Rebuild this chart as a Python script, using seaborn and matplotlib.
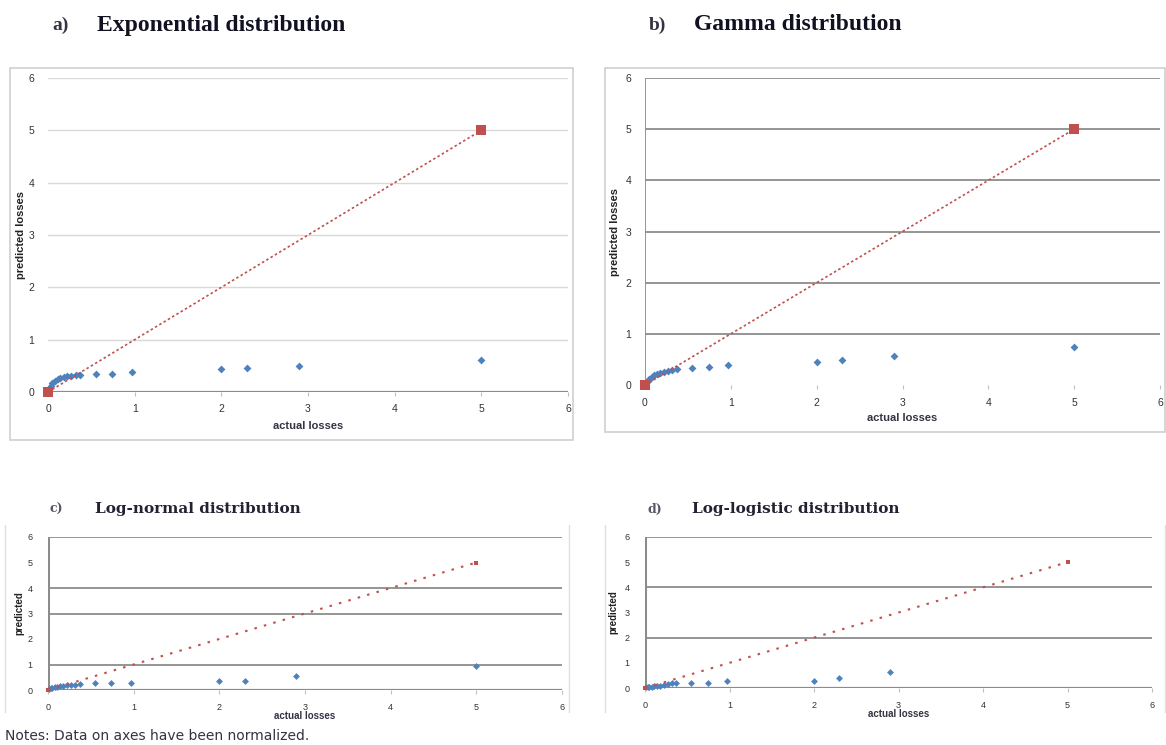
import numpy as np
import pandas as pd
import matplotlib.pyplot as plt
import seaborn as sns
from matplotlib.patches import Rectangle
from matplotlib.lines import Line2D

sns.set_theme(style="white")
plt.rcParams['font.family'] = ['Liberation Sans', 'DejaVu Sans']

# data (normalized losses)
actual = [0.01, 0.03, 0.05, 0.08, 0.11, 0.14, 0.18, 0.22, 0.27, 0.32, 0.37,
          0.55, 0.74, 0.97, 2.0, 2.3, 2.9, 5.0]
pred_exp = [0.05, 0.12, 0.17, 0.21, 0.24, 0.27, 0.29, 0.30, 0.31, 0.32, 0.33,
            0.35, 0.35, 0.38, 0.43, 0.45, 0.50, 0.62]
pred_gamma = [0.03, 0.08, 0.12, 0.16, 0.19, 0.22, 0.24, 0.26, 0.28, 0.30, 0.31,
              0.34, 0.35, 0.40, 0.45, 0.48, 0.57, 0.74]
pred_lognorm = [0.03, 0.06, 0.08, 0.10, 0.12, 0.14, 0.16, 0.18, 0.19, 0.20, 0.22,
                0.27, 0.27, 0.27, 0.37, 0.37, 0.56, 0.93]
pred_loglog = [0.02, 0.03, 0.04, 0.05, 0.06, 0.07, 0.08, 0.10, 0.15, 0.18, 0.20,
               0.20, 0.20, 0.29, 0.29, 0.40, 0.63, np.nan]
ref_x = [0, 5]
ref_y = [0, 5]

letters = ["a)", "b)", "c)", "d)"]
titles = ["Exponential distribution", "Gamma distribution",
          "Log-normal distribution", "Log-logistic distribution"]
ylabels = ["predicted losses", "predicted losses", "predicted", "predicted"]
xlabel = "actual losses"
ticks = [0, 1, 2, 3, 4, 5, 6]
footnote = "Notes: Data on axes have been normalized."

W, H = 1166, 745
fig = plt.figure(figsize=(W / 100, H / 100), dpi=100)


def px_axes(x0, y_top, x1, y_bot):
    # pixel box -> figure fraction
    return fig.add_axes([x0 / W, 1 - y_bot / H, (x1 - x0) / W, (y_bot - y_top) / H])


def px_rect(x0, y0, x1, y1, **kw):
    fig.patches.append(Rectangle((x0 / W, 1 - y1 / H), (x1 - x0) / W, (y1 - y0) / H,
                                 transform=fig.transFigure, fill=False, **kw))


# outer chart frames
px_rect(10, 68, 573, 440, edgecolor="#d0d0d0", linewidth=1.2)
px_rect(605, 68, 1165, 432, edgecolor="#d0d0d0", linewidth=1.2)
for x in (5, 569, 605, 1165):
    fig.add_artist(Line2D([x / W, x / W], [1 - 712 / H, 1 - 525 / H],
                          color="#e0e0e0", linewidth=1, transform=fig.transFigure))

panels = [
    dict(box=(48, 78, 568, 392), pred=pred_exp, grid="#d9d9d9", gridw=1.0,
         yaxis=False, xaxis=True, sq=6.5, dm=4, lab=7.5, ylab_x=26, ypad=10, xlab_y=426),
    dict(box=(645, 78, 1160, 385), pred=pred_gamma, grid="#8c8c8c", gridw=1.3,
         yaxis=True, xaxis=False, sq=6.5, dm=4, lab=7.5, ylab_x=620, ypad=10, xlab_y=418),
    dict(box=(48, 537, 562, 690), pred=pred_lognorm, grid="#8c8c8c", gridw=1.3,
         yaxis=True, xaxis=True, sq=3.5, dm=3.5, lab=6.5, ylab_x=24, ypad=11, xlab_y=716,
         gridy=[1, 3, 4, 6]),
    dict(box=(645, 537, 1152, 688), pred=pred_loglog, grid="#8c8c8c", gridw=1.3,
         yaxis=True, xaxis=True, sq=3.5, dm=3.5, lab=6.5, ylab_x=618, ypad=11, xlab_y=714,
         gridy=[2, 4, 6]),
]

for i, p in enumerate(panels):
    x0, yt, x1, yb = p["box"]
    ax = px_axes(x0, yt, x1, yb)
    df = pd.DataFrame({"actual": actual, "predicted": p["pred"]})
    ref = pd.DataFrame({"x": ref_x, "y": ref_y})

    ax.set_xlim(0, 6)
    ax.set_ylim(0, 6)
    for g in p.get("gridy", [1, 2, 3, 4, 5, 6]):
        ax.axhline(g, color=p["grid"], linewidth=p["gridw"], zorder=0)
    if p["xaxis"]:
        ax.axhline(0, color="#8c8c8c", linewidth=1.6, zorder=1)
    if p["yaxis"]:
        ax.axvline(0, color="#8c8c8c", linewidth=2.2 if i >= 2 else 1.3, zorder=1)

    sns.lineplot(data=ref, x="x", y="y", ax=ax, color="#c0504d",
                 linestyle=(0, (1.5, 1.5)) if i < 2 else (0, (1.2, 3.5)),
                 linewidth=1.2 if i < 2 else 1.5, marker="s", markersize=p["sq"],
                 markeredgewidth=0, zorder=4, clip_on=False)
    sns.scatterplot(data=df, x="actual", y="predicted", ax=ax, color="#4f81bd",
                    marker="D", s=p["dm"] ** 2, linewidth=0, zorder=3, clip_on=False)

    for s in ax.spines.values():
        s.set_visible(False)
    ax.set_xticks(ticks)
    ax.set_yticks(ticks)
    ax.tick_params(axis="x", length=3, width=0.8, color="#bfbfbf", labelsize=p["lab"],
                   labelcolor="#333333", pad=6, bottom=True)
    ax.tick_params(axis="y", length=0, labelsize=p["lab"], labelcolor="#333333",
                   pad=p["ypad"])
    ax.set_xlabel(xlabel, fontsize=p["lab"] + 0.5, fontweight="bold", color="#333344")
    ax.set_ylabel(ylabels[i], fontsize=p["lab"] + 0.5, fontweight="bold", color="#222222")
    # place axis titles by pixel position
    ax.yaxis.set_label_coords((p["ylab_x"] - x0) / (x1 - x0), 0.5)
    ax.xaxis.set_label_coords(0.5, (yb - p["xlab_y"]) / (yb - yt))
    ax.xaxis.label.set_va("center")
    ax.patch.set_alpha(0)

    # panel heading
    if i < 2:
        fy = 25
        fig.text((x0 + 4) / W, 1 - fy / H, letters[i], fontsize=14, family="Liberation Serif",
                 fontweight="bold", color="#333344", va="center")
        fig.text((x0 + 49) / W, 1 - fy / H, titles[i], fontsize=17, family="Liberation Serif",
                 fontweight="bold", color="#111122", va="center")
    else:
        fy = 509
        fig.text((x0 + 2) / W, 1 - fy / H, letters[i], fontsize=9, family="DejaVu Serif",
                 fontweight="bold", color="#555566", va="center")
        fig.text((x0 + 47) / W, 1 - fy / H, titles[i], fontsize=11, family="DejaVu Serif",
                 fontweight="bold", color="#222233", va="center")

fig.text(5 / W, 1 - 736 / H, footnote, fontsize=10, family="DejaVu Sans",
         color="#333344", va="center")

fig.savefig("out.png", dpi=100)
